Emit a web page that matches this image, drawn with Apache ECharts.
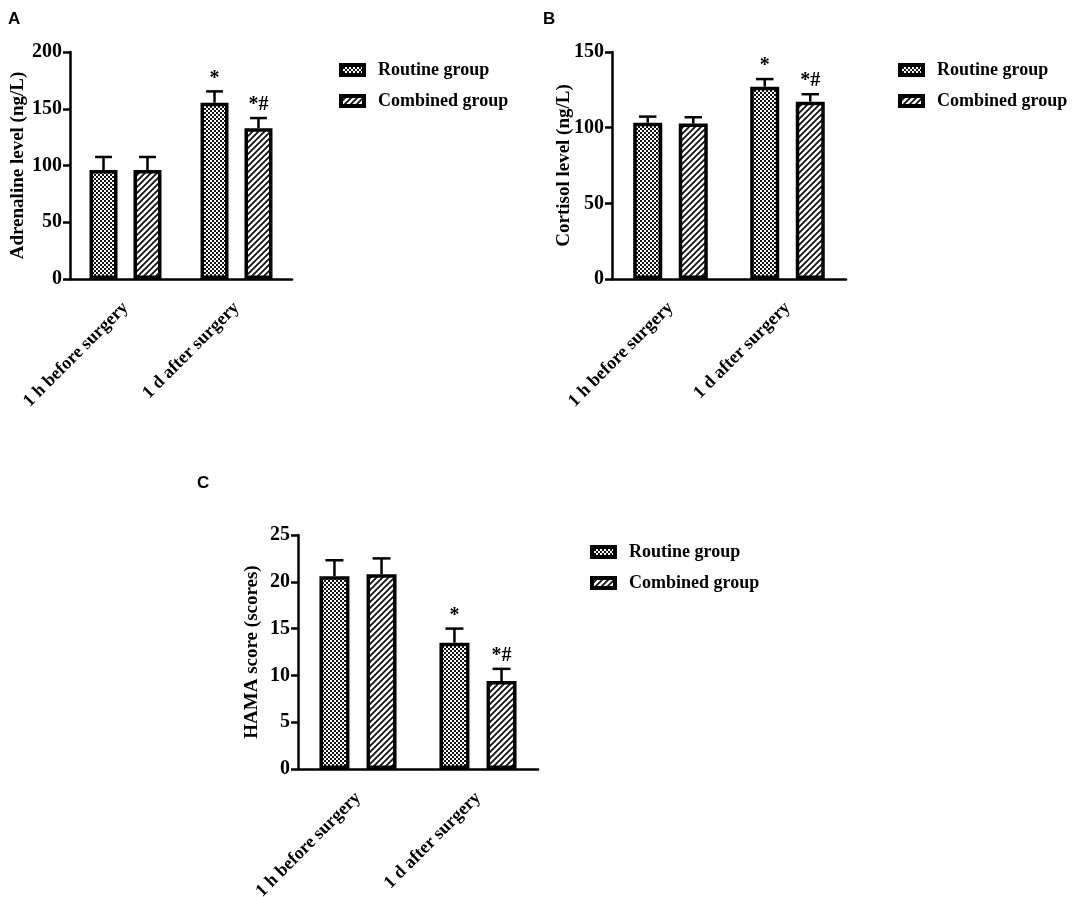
<!DOCTYPE html>
<html lang="en">
<head>
    <meta charset="UTF-8">
    <title>Stress indicators</title>
    <script src="https://cdn.jsdelivr.net/npm/echarts@6/dist/echarts.min.js"></script>
    <style>
        html, body {margin: 0; padding: 0; background: #fff;}
    </style>
</head>
<body>
<div id="main" style="width: 1084px;height:897px;"></div>
<script type="text/javascript">
    // data
    var categories = ['1 h before surgery', '1 d after surgery'];
    var groupNames = ['Routine group', 'Combined group'];

    // A - adrenaline (ng/L): mean and SD
    var adrRoutine = [96, 155.3];
    var adrRoutineSd = [11.5, 10];
    var adrCombined = [96, 132.8];
    var adrCombinedSd = [11.5, 9];

    // B - cortisol (ng/L)
    var corRoutine = [103.3, 127.1];
    var corRoutineSd = [4, 5];
    var corCombined = [102.7, 117.2];
    var corCombinedSd = [4.2, 4.9];

    // C - HAMA score
    var hamaRoutine = [20.6, 13.5];
    var hamaRoutineSd = [1.7, 1.5];
    var hamaCombined = [20.8, 9.4];
    var hamaCombinedSd = [1.7, 1.3];

    // significance marks
    var routineMarks = ['', '*'];
    var combinedMarks = ['', '*#'];

    var yMax = [200, 150, 25];
    var yStep = [50, 50, 5];
    var yNames = ['Adrenaline level (ng/L)', 'Cortisol level (ng/L)', 'HAMA score (scores)'];

    var serif = 'Liberation Serif';

    // fill patterns
    function checker() {
        var c = document.createElement('canvas');
        c.width = 4; c.height = 4;
        var ctx = c.getContext('2d');
        ctx.fillStyle = '#fff';
        ctx.fillRect(0, 0, 4, 4);
        ctx.fillStyle = '#111';
        ctx.fillRect(0, 0, 2, 2);
        ctx.fillRect(2, 2, 2, 2);
        return c;
    }
    function hatch() {
        var s = 6;
        var c = document.createElement('canvas');
        c.width = s; c.height = s;
        var ctx = c.getContext('2d');
        ctx.fillStyle = '#fff';
        ctx.fillRect(0, 0, s, s);
        ctx.strokeStyle = '#111';
        ctx.lineWidth = 1.8;
        ctx.beginPath();
        ctx.moveTo(-1, s + 1); ctx.lineTo(s + 1, -1);
        ctx.moveTo(-1, 1); ctx.lineTo(1, -1);
        ctx.moveTo(s - 1, s + 1); ctx.lineTo(s + 1, s - 1);
        ctx.stroke();
        return c;
    }
    var routineFill = {image: checker(), repeat: 'repeat'};
    var combinedFill = {image: hatch(), repeat: 'repeat'};

    var gapRatio = 0.57;
    var panels = [
        {letter: 'A', lx: 8, ly: 11, grid: {left: 70, top: 52, width: 222, height: 227}, barW: 28,
            legend: {left: 339, top: 61}, nameGap: 42,
            routine: adrRoutine, routineSd: adrRoutineSd, combined: adrCombined, combinedSd: adrCombinedSd},
        {letter: 'B', lx: 543, ly: 11, grid: {left: 612, top: 52, width: 234, height: 227}, barW: 29,
            legend: {left: 898, top: 61}, nameGap: 38,
            routine: corRoutine, routineSd: corRoutineSd, combined: corCombined, combinedSd: corCombinedSd},
        {letter: 'C', lx: 197, ly: 475, grid: {left: 298, top: 535, width: 240, height: 234}, barW: 30,
            legend: {left: 590, top: 543}, nameGap: 36,
            routine: hamaRoutine, routineSd: hamaRoutineSd, combined: hamaCombined, combinedSd: hamaCombinedSd}
    ];

    function errorSeries(idx, means, sds, marks, sign, barW) {
        var data = [];
        for (var i = 0; i < means.length; i++) {
            data.push([i, means[i], sds[i]]);
        }
        return {
            type: 'custom',
            xAxisIndex: idx,
            yAxisIndex: idx,
            z: 5,
            silent: true,
            data: data,
            renderItem: function (params, api) {
                var off = sign * barW * (1 + gapRatio) / 2;
                var p0 = api.coord([api.value(0), api.value(1)]);
                var p1 = api.coord([api.value(0), api.value(1) + api.value(2)]);
                var x = p0[0] + off;
                var cap = barW * 0.3;
                return {
                    type: 'group',
                    children: [
                        {type: 'line', shape: {x1: x, y1: p0[1], x2: x, y2: p1[1]},
                            style: {stroke: '#000', lineWidth: 2.5}},
                        {type: 'line', shape: {x1: x - cap, y1: p1[1], x2: x + cap, y2: p1[1]},
                            style: {stroke: '#000', lineWidth: 2.5}},
                        {type: 'text', x: x, y: p1[1] - 3,
                            style: {text: marks[params.dataIndex], fill: '#000', align: 'center',
                                verticalAlign: 'bottom', font: 'bold 20px "' + serif + '"'}}
                    ]
                };
            }
        };
    }

    var option = {
        backgroundColor: '#fff',
        animation: false,
        title: [],
        legend: [],
        grid: [],
        xAxis: [],
        yAxis: [],
        series: []
    };

    panels.forEach(function (p, idx) {
        option.title.push({
            text: p.letter, left: p.lx, top: p.ly, padding: 0,
            textStyle: {fontFamily: 'Liberation Sans', fontWeight: 'bold', fontSize: 17, color: '#000'}
        });
        option.legend.push({
            left: p.legend.left, top: p.legend.top,
            padding: 0,
            orient: 'vertical',
            itemWidth: 23, itemHeight: 10, itemGap: 13,
            icon: 'rect',
            itemStyle: {borderColor: '#000', borderWidth: 4},
            data: groupNames,
            textStyle: {fontFamily: serif, fontWeight: 'bold', fontSize: 18, color: '#000', padding: [0, 0, 0, 9]}
        });
        var g = p.grid;
        option.grid.push({left: g.left, top: g.top, width: g.width, height: g.height, outerBoundsMode: 'none'});
        option.xAxis.push({
            type: 'category',
            gridIndex: idx,
            data: categories,
            axisLine: {lineStyle: {color: '#000', width: 2.5}},
            axisTick: {alignWithLabel: true, length: 7, lineStyle: {color: '#000', width: 2.5}},
            axisLabel: {rotate: 45, margin: 26, color: '#000', fontFamily: serif, fontWeight: 'bold', fontSize: 18}
        });
        option.yAxis.push({
            type: 'value',
            gridIndex: idx,
            min: 0,
            max: yMax[idx],
            interval: yStep[idx],
            name: yNames[idx],
            nameLocation: 'middle',
            nameGap: p.nameGap,
            nameMoveOverlap: false,
            nameTextStyle: {color: '#000', fontFamily: serif, fontWeight: 'bold', fontSize: 19},
            axisLine: {show: true, lineStyle: {color: '#000', width: 2.5}},
            axisTick: {show: true, length: 7, lineStyle: {color: '#000', width: 2.5}},
            axisLabel: {color: '#000', fontFamily: serif, fontWeight: 'bold', fontSize: 20, margin: 8},
            splitLine: {show: false}
        });
        option.series.push({
            name: groupNames[0], type: 'bar', xAxisIndex: idx, yAxisIndex: idx,
            data: p.routine, barWidth: p.barW, barGap: (gapRatio * 100) + '%',
            itemStyle: {color: routineFill, borderColor: '#000', borderWidth: 3.5}
        });
        option.series.push({
            name: groupNames[1], type: 'bar', xAxisIndex: idx, yAxisIndex: idx,
            data: p.combined, barWidth: p.barW, barGap: (gapRatio * 100) + '%',
            itemStyle: {color: combinedFill, borderColor: '#000', borderWidth: 3.5}
        });
        option.series.push(errorSeries(idx, p.routine, p.routineSd, routineMarks, -1, p.barW));
        option.series.push(errorSeries(idx, p.combined, p.combinedSd, combinedMarks, 1, p.barW));
    });

    var myChart = echarts.init(document.getElementById('main'));
    myChart.setOption(option);
</script>
</body>
</html>
